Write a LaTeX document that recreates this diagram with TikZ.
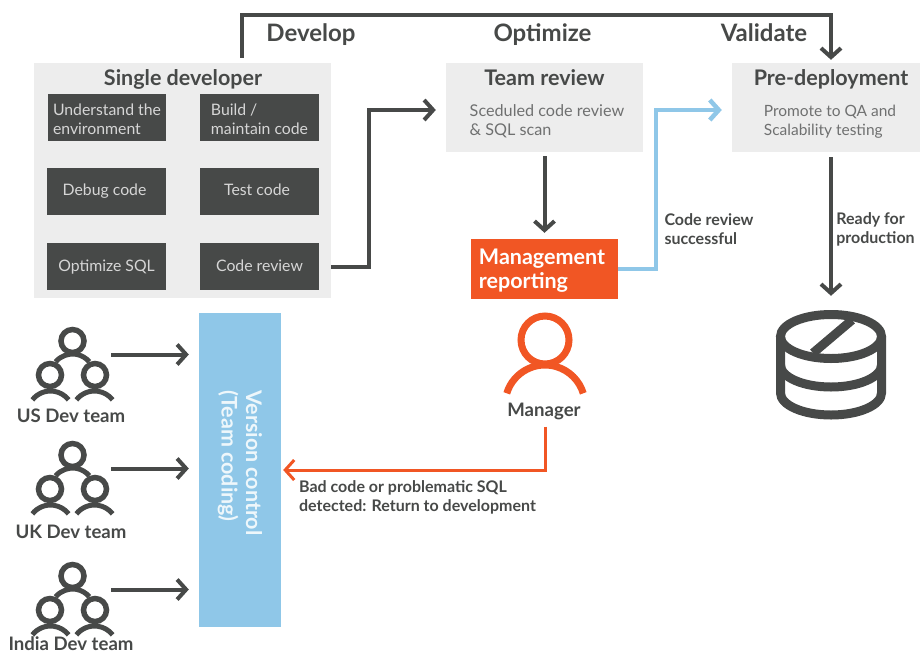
\documentclass[tikz,border=0pt]{standalone}
\usepackage{fontspec}
\setmainfont{Lato}
\usetikzlibrary{arrows.meta,positioning}

\definecolor{darkgrey}{HTML}{474948}
\definecolor{bodygrey}{HTML}{6F7070}
\definecolor{panelgrey}{HTML}{EDEDED}
\definecolor{taskgrey}{HTML}{D6D6D6}
\definecolor{vcblue}{HTML}{8FC7E8}
\definecolor{mgmtorange}{HTML}{F15624}

\tikzset{
  panel/.style={fill=panelgrey, inner sep=0pt},
  task/.style={fill=darkgrey, text=taskgrey, minimum width=119pt, minimum height=47pt, inner sep=0pt, align=left,
    text height=12pt, text depth=4.5pt, font=\fontsize{15.8}{19}\selectfont},
  twolines/.style={text height=36pt, text depth=3pt},
  lowrow/.style={text height=13pt, text depth=3.5pt},
  heading/.style={text=darkgrey, inner sep=0pt, anchor=base, font=\fontsize{24}{28}\selectfont\bfseries},
  title/.style={text=darkgrey, inner sep=0pt, anchor=base, font=\fontsize{21.5}{26}\selectfont\bfseries},
  body/.style={text=bodygrey, inner sep=0pt, align=left, font=\fontsize{16.2}{19}\selectfont},
  note/.style={text=darkgrey, inner sep=0pt, align=left, font=\fontsize{16}{19}\selectfont\bfseries},
  teamname/.style={text=darkgrey, inner sep=0pt, anchor=base, font=\fontsize{18.6}{22}\selectfont\bfseries},
  flow/.style={line width=4pt, draw=darkgrey, -{Straight Barb[length=9pt,width=20pt]}},
  iconbox/.style={inner sep=0pt, minimum width=77pt, minimum height=70pt},
  devteam/.pic={
    \draw[darkgrey, line width=5.5pt] (0,13.5) circle (11.5);
    \draw[darkgrey, line width=5.5pt] (-22.5,-20.5) circle (11.5);
    \draw[darkgrey, line width=5.5pt] (22.5,-20.5) circle (11.5);
    \draw[darkgrey, line width=5pt] ([shift={(140:22)}]0,-21.5) arc[start angle=140, end angle=40, radius=22];
    \draw[darkgrey, line width=5pt] ([shift={(142:23)}]-22,-59.5) arc[start angle=142, end angle=38, radius=23];
    \draw[darkgrey, line width=5pt] ([shift={(142:23)}]22,-59.5) arc[start angle=142, end angle=38, radius=23];
  }
}

\begin{document}
\begin{tikzpicture}[x=1pt, y=1pt]
\useasboundingbox (0,0) rectangle (920,-654);

% single developer
\node (devpanel) at (182.5,-180.5) [panel, minimum width=297pt, minimum height=235pt] {};
\node (devtitle) at (183,-85) [title] {Single developer};
\node (understand) at (107,-117.5) [task, twolines, minimum width=118pt] {Understand the\\environment};
\node (build) at (259.5,-117.5) [task, twolines] {Build /\\maintain code};
\node (debug) at (106.5,-191.5) [task] {Debug code\hspace{4pt}};
\node (testcode) at (259.5,-191.5) [task] {Test code\hspace{5pt}};
\node (optimize) at (106.5,-266.5) [task, lowrow] {Optimize SQL};
\node (codereview) at (259.5,-266.5) [task, lowrow] {Code review};

% team review and pre-deployment
\node (review) at (544.5,-107.5) [panel, minimum width=197pt, minimum height=89pt] {};
\node (reviewtitle) at (544.5,-85) [title] {Team review};
\node (reviewbody) at (547,-121) [body] {Sceduled code review\\\& SQL scan};
\node (predeploy) at (826,-107.5) [panel, minimum width=188pt, minimum height=89pt] {};
\node (predeploytitle) at (831,-85) [title] {Pre-deployment};
\node (predeploybody) at (830,-121.5) [body, font=\fontsize{15.5}{19}\selectfont] {Promote to QA and\\Scalability testing};

% phases
\node (develop) at (311,-41) [heading] {Develop};
\node (optimizing) at (542.5,-41) [heading] {Optimize};
\node (validate) at (764,-41) [heading] {Validate};

% management
\node (mgmt) at (544.5,-269) [fill=mgmtorange, text=white, minimum width=147pt, minimum height=60pt, inner sep=0pt] {};
\node (mgmttext) at (542,-270.5) [text=white, inner sep=0pt, align=left, font=\fontsize{21.5}{24.5}\selectfont\bfseries] {Management\\reporting};
\node (managericon) at (545,-365) [inner sep=0pt, minimum width=78pt, minimum height=64pt] {};
\draw[mgmtorange, line width=7pt] (545,-340) circle (24);
\draw[mgmtorange, line width=7pt] ([shift={(163:40)}]545,-405) arc[start angle=163, end angle=17, radius=40];
\node (manager) at (544,-416) [teamname] {Manager};

% version control
\node (vc) at (240,-470) [fill=vcblue, minimum width=82pt, minimum height=314pt, inner sep=0pt] {};
\node (vctext) at (240,-463) [rotate=-90, text=white!85!vcblue, inner sep=0pt, align=left, font=\fontsize{21.5}{24.5}\selectfont\bfseries] {Version control\\(Team coding)};

% dev teams
\node (usicon) at (72.5,-354.5) [iconbox] {};
\pic at (usicon.center) {devteam};
\node (usteam) at (71,-422.5) [teamname] {US Dev team};
\node (ukicon) at (72.5,-468.5) [iconbox] {};
\pic at (ukicon.center) {devteam};
\node (ukteam) at (71,-538.5) [teamname] {UK Dev team};
\node (indiaicon) at (72.5,-589.5) [iconbox] {};
\pic at (indiaicon.center) {devteam};
\node (indiateam) at (71,-650) [teamname] {India Dev team};

% database
\node (database) at (831,-365) [inner sep=0pt, minimum width=110pt, minimum height=110pt] {};
\begin{scope}[darkgrey, line width=9pt]
\draw (831,-336.5) ellipse [x radius=50.5, y radius=22];
\draw (780.5,-336.5) -- (780.5,-393) arc[start angle=180, end angle=360, x radius=50.5, y radius=22] -- (881.5,-336.5);
\draw (780.5,-365) arc[start angle=180, end angle=360, x radius=50.5, y radius=22];
\draw (813,-353) -- (852,-320);
\end{scope}

% connectors
\draw[flow, shorten <=5pt, shorten >=3pt] ([xshift=59.5pt]devpanel.north) |- (250,-15) -| ([xshift=5pt]predeploy.north);
\draw[flow, shorten >=10pt] (devpanel.east |- codereview) -| (369,-110) -- ([yshift=-2.5pt]review.west);
\draw[flow, draw=vcblue, line width=4.5pt, shorten >=10pt] (mgmt.east) -| (656,-110) -- ([yshift=-2.5pt]predeploy.west);
\draw[flow, shorten <=4pt, shorten >=6pt] (review.south) -- (mgmt.north);
\draw[flow, shorten <=5pt, shorten >=14pt] ([xshift=5pt]predeploy.south) -- (database.north);
\draw[flow, draw=mgmtorange, line width=3pt, shorten <=7pt, shorten >=2pt] (manager.south -| managericon.south) |- (vc.east |- 0,-470);
\draw[flow, shorten >=10pt] (usicon.east) -- (vc.west |- usicon.east);
\draw[flow, shorten >=10pt] (ukicon.east) -- (vc.west |- ukicon.east);
\draw[flow, shorten >=10pt] (indiaicon.east) -- (vc.west |- indiaicon.east);

% connector labels
\node (successlabel) at (709,-229) [note] {Code review\\successful};
\node (readylabel) at (875.5,-229) [note] {Ready for\\production};
\node (badcodelabel) at (417.5,-497) [note] {Bad code or problematic SQL\\detected: Return to development};
\end{tikzpicture}
\end{document}
